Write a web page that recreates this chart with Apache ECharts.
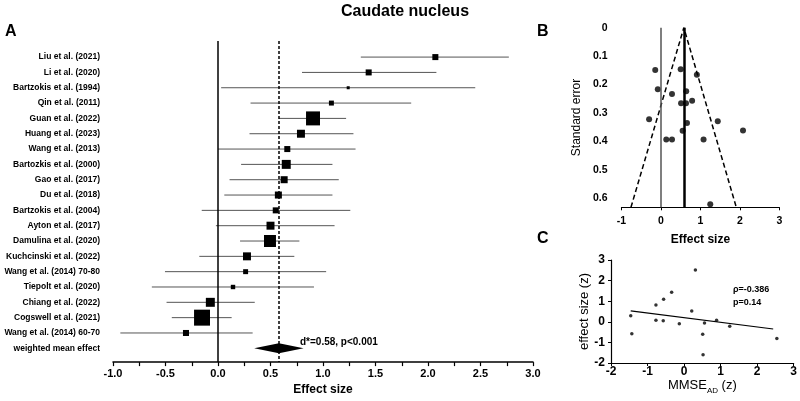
<!DOCTYPE html>
<html>
<head>
<meta charset="utf-8">
<script src="https://cdn.jsdelivr.net/npm/echarts@6/dist/echarts.min.js"></script>
<style>
  html, body { margin: 0; padding: 0; background: #fff; }
  #main { width: 800px; height: 401px; }
</style>
</head>
<body>
<div id="main"></div>
<script>
// A: forest plot
var studies = ['Liu et al. (2021)', 'Li et al. (2020)', 'Bartzokis et al. (1994)', 'Qin et al. (2011)',
  'Guan et al. (2022)', 'Huang et al. (2023)', 'Wang et al. (2013)', 'Bartozkis et al. (2000)',
  'Gao et al. (2017)', 'Du et al. (2018)', 'Bartzokis et al. (2004)', 'Ayton et al. (2017)',
  'Damulina et al. (2020)', 'Kuchcinski et al. (2022)', 'Wang et al. (2014) 70-80', 'Tiepolt et al. (2020)',
  'Chiang et al. (2022)', 'Cogswell et al. (2021)', 'Wang et al. (2014) 60-70']
var effect = [2.07, 1.435, 1.24, 1.08, 0.905, 0.79, 0.66, 0.65, 0.63, 0.575, 0.55, 0.50, 0.495, 0.276, 0.263, 0.143, -0.073, -0.152, -0.305]
var ciLow = [1.36, 0.80, 0.03, 0.31, 0.58, 0.30, 0.00, 0.22, 0.11, 0.06, -0.155, -0.02, 0.21, -0.178, -0.505, -0.63, -0.49, -0.44, -0.93]
var ciHigh = [2.77, 2.08, 2.45, 1.84, 1.22, 1.29, 1.31, 1.09, 1.15, 1.09, 1.26, 1.11, 0.775, 0.727, 1.03, 0.914, 0.35, 0.13, 0.33]
var weights = [2.8, 2.8, 0.7, 1.9, 15.1, 4.9, 2.8, 6.2, 3.8, 3.8, 2.8, 4.9, 11.1, 4.9, 1.9, 1.5, 6.2, 19.7, 2.8]
var pooledLabel = 'weighted mean effect'
var pooled = [0.345, 0.58, 0.815]   // low, mean, high
var forestTicks = [-1.0, -0.5, 0.0, 0.5, 1.0, 1.5, 2.0, 2.5, 3.0]

// B: funnel plot
var funnelEffect = [-0.145, 0.50, 0.91, -0.08, 0.28, 0.64, 0.79, 0.51, 0.635, -0.30, 0.66, 1.44, 2.08, 0.55, 0.135, 0.28, 1.08, 1.25]
var funnelSE = [0.149, 0.146, 0.166, 0.217, 0.233, 0.224, 0.257, 0.266, 0.266, 0.322, 0.335, 0.329, 0.362, 0.363, 0.393, 0.393, 0.393, 0.621]
var funnelLineX = [-0.76, 0.58, 1.91]
var funnelLineY = [0.632, 0, 0.632]
var seTicks = [0, 0.1, 0.2, 0.3, 0.4, 0.5, 0.6]

// C: MMSE correlation
var mmseZ = [-1.46, -1.43, -0.77, -0.77, -0.56, -0.57, -0.34, -0.13, 0.21, 0.31, 0.56, 0.51, 0.52, 0.89, 1.25, 2.54]
var effectZ = [0.29, -0.58, 0.81, 0.08, 1.09, 0.05, 1.43, -0.10, 0.52, 2.52, -0.06, -0.61, -1.60, 0.07, -0.21, -0.81]
var trendX = [-1.46, 2.44]
var trendY = [0.53, -0.35]

var font = 'Liberation Sans, Arial, sans-serif'
var rows = []
for (var i = 0; i <= studies.length; i++) rows.push(i)
var forestData = studies.map(function (s, i) {
  return [ciLow[i], effect[i], ciHigh[i], i, weights[i]]
})

function renderStudy(params, api) {
  var row = api.value(3)
  var lo = api.coord([api.value(0), row])
  var mid = api.coord([api.value(1), row])
  var hi = api.coord([api.value(2), row])
  var side = Math.sqrt(api.value(4)) * 3.6
  return {
    type: 'group',
    children: [
      { type: 'line', shape: { x1: lo[0], y1: lo[1], x2: hi[0], y2: hi[1] }, style: { stroke: '#555', lineWidth: 1 } },
      { type: 'rect', shape: { x: mid[0] - side / 2, y: mid[1] - side / 2, width: side, height: side }, style: { fill: '#000' } }
    ]
  }
}

function renderDiamond(params, api) {
  var row = api.value(3)
  var lo = api.coord([api.value(0), row])
  var mid = api.coord([api.value(1), row])
  var hi = api.coord([api.value(2), row])
  return {
    type: 'polygon',
    shape: { points: [[lo[0], lo[1]], [mid[0], mid[1] - 5], [hi[0], hi[1]], [mid[0], mid[1] + 5]] },
    style: { fill: '#000' }
  }
}

function pairs(xs, ys) {
  return xs.map(function (x, i) { return [x, ys[i]] })
}

var boldLabel = function (size) {
  return { color: '#000', fontWeight: 'bold', fontSize: size, fontFamily: font }
}

var chart = echarts.init(document.getElementById('main'))
var option = {
  animation: false,
  backgroundColor: '#fff',
  grid: [
    { left: 113, top: 41, width: 420, height: 322 },
    { left: 621.5, top: 27.7, width: 157.8, height: 179.6 },
    { left: 611, top: 260, width: 184, height: 103 }
  ],
  xAxis: [
    {
      gridIndex: 0, type: 'value', min: -1, max: 3, interval: 0.5,
      axisLine: { onZero: false, lineStyle: { color: '#000', width: 1.5 } },
      axisTick: { length: 4, lineStyle: { color: '#000', width: 1.2 } },
      minorTick: { show: true, splitNumber: 2, length: 4, lineStyle: { color: '#000', width: 1.2 } },
      splitLine: { show: false },
      axisLabel: Object.assign(boldLabel(11), { margin: 6, formatter: function (v) { return v.toFixed(1) } }),
      name: 'Effect size', nameLocation: 'middle', nameGap: 13,
      nameTextStyle: boldLabel(12)
    },
    {
      gridIndex: 1, type: 'value', min: -1, max: 3, interval: 1,
      axisLine: { onZero: false, lineStyle: { color: '#000', width: 1.2 } },
      axisTick: { length: 3, lineStyle: { color: '#000' } },
      splitLine: { show: false },
      axisLabel: Object.assign(boldLabel(10.5), { margin: 8 }),
      name: 'Effect size', nameLocation: 'middle', nameGap: 26,
      nameTextStyle: boldLabel(12)
    },
    {
      gridIndex: 2, type: 'value', min: -2, max: 3, interval: 1,
      axisLine: { onZero: false, lineStyle: { color: '#000', width: 1.2 } },
      axisTick: { length: 3, lineStyle: { color: '#000' } },
      splitLine: { show: false },
      axisLabel: Object.assign(boldLabel(12), { margin: 3 }),
      name: '{a|MMSE}{b|AD}{a| (z)}', nameLocation: 'middle', nameGap: 16,
      nameTextStyle: {
        rich: {
          a: { fontSize: 13, color: '#000', fontFamily: font, verticalAlign: 'bottom', padding: [0, 0, 3, 0] },
          b: { fontSize: 8, color: '#000', fontFamily: font, verticalAlign: 'bottom' }
        }
      }
    }
  ],
  yAxis: [
    {
      gridIndex: 0, type: 'value', inverse: true, min: -1.05, max: 19.9,
      axisLine: { show: false, onZero: false },
      axisTick: { show: false },
      splitLine: { show: false },
      axisLabel: Object.assign(boldLabel(8.5), {
        margin: 13,
        customValues: rows,
        formatter: function (v) {
          var i = Math.round(v)
          return i < studies.length ? studies[i] : pooledLabel
        }
      })
    },
    {
      gridIndex: 1, type: 'value', inverse: true, min: 0, max: 0.632,
      axisLine: { show: false, onZero: false },
      axisTick: { show: false },
      splitLine: { show: false },
      axisLabel: Object.assign(boldLabel(10.5), {
        margin: 14,
        customValues: seTicks,
        formatter: function (v) { return v === 0 ? '0' : v.toFixed(1) }
      }),
      name: 'Standard error', nameLocation: 'middle', nameGap: 39,
      nameTextStyle: { color: '#000', fontSize: 12, fontFamily: font }
    },
    {
      gridIndex: 2, type: 'value', min: -2, max: 3, interval: 1,
      axisLine: { show: true, onZero: false, lineStyle: { color: '#000', width: 1.2 } },
      axisTick: { show: true, length: 3, lineStyle: { color: '#000' } },
      splitLine: { show: false },
      axisLabel: Object.assign(boldLabel(12), { margin: 6 }),
      name: 'effect size (z)', nameLocation: 'middle', nameGap: 19,
      nameTextStyle: { color: '#000', fontSize: 13, fontFamily: font }
    }
  ],
  series: [
    {
      type: 'custom', xAxisIndex: 0, yAxisIndex: 0,
      renderItem: renderStudy,
      encode: { x: [0, 1, 2], y: 3 },
      data: forestData
    },
    {
      type: 'custom', xAxisIndex: 0, yAxisIndex: 0,
      renderItem: renderDiamond,
      encode: { x: [0, 1, 2], y: 3 },
      data: [[pooled[0], pooled[1], pooled[2], 19]],
      markLine: {
        silent: true, symbol: ['none', 'none'], label: { show: false },
        data: [
          { xAxis: 0, lineStyle: { color: '#000', width: 1.5, type: 'solid' } },
          { xAxis: pooled[1], lineStyle: { color: '#000', width: 1.5, type: [3, 2] } }
        ]
      }
    },
    {
      type: 'line', xAxisIndex: 1, yAxisIndex: 1,
      data: pairs(funnelLineX, funnelLineY),
      symbol: 'none',
      lineStyle: { color: '#000', width: 1.5, type: [5, 3] },
      markLine: {
        silent: true, symbol: ['none', 'none'], label: { show: false },
        data: [
          { xAxis: 0, lineStyle: { color: '#555', width: 1.5, type: 'solid' } },
          { xAxis: pooled[1], lineStyle: { color: '#000', width: 2.5, type: 'solid' } }
        ]
      }
    },
    {
      type: 'scatter', xAxisIndex: 1, yAxisIndex: 1,
      data: pairs(funnelEffect, funnelSE),
      symbolSize: 6,
      itemStyle: { color: '#000' }
    },
    {
      type: 'scatter', xAxisIndex: 2, yAxisIndex: 2,
      data: pairs(mmseZ, effectZ),
      symbolSize: 3.5,
      itemStyle: { color: '#000' }
    },
    {
      type: 'line', xAxisIndex: 2, yAxisIndex: 2,
      data: pairs(trendX, trendY),
      symbol: 'none',
      lineStyle: { color: '#000', width: 1.2 }
    }
  ],
  graphic: [
    { type: 'text', left: 341, top: 4, style: { text: 'Caudate nucleus', fill: '#000', font: 'bold 16px ' + font } },
    { type: 'text', left: 5, top: 24, style: { text: 'A', fill: '#000', font: 'bold 16px ' + font } },
    { type: 'text', left: 537, top: 24, style: { text: 'B', fill: '#000', font: 'bold 16px ' + font } },
    { type: 'text', left: 537, top: 231, style: { text: 'C', fill: '#000', font: 'bold 16px ' + font } },
    { type: 'text', left: 300, top: 337, style: { text: 'd*=0.58, p<0.001', fill: '#000', font: 'bold 10px ' + font } },
    { type: 'text', left: 733, top: 285, style: { text: 'ρ=-0.386', fill: '#000', font: 'bold 9px ' + font } },
    { type: 'text', left: 733, top: 298, style: { text: 'p=0.14', fill: '#000', font: 'bold 9px ' + font } }
  ]
}
chart.setOption(option)
</script>
</body>
</html>
